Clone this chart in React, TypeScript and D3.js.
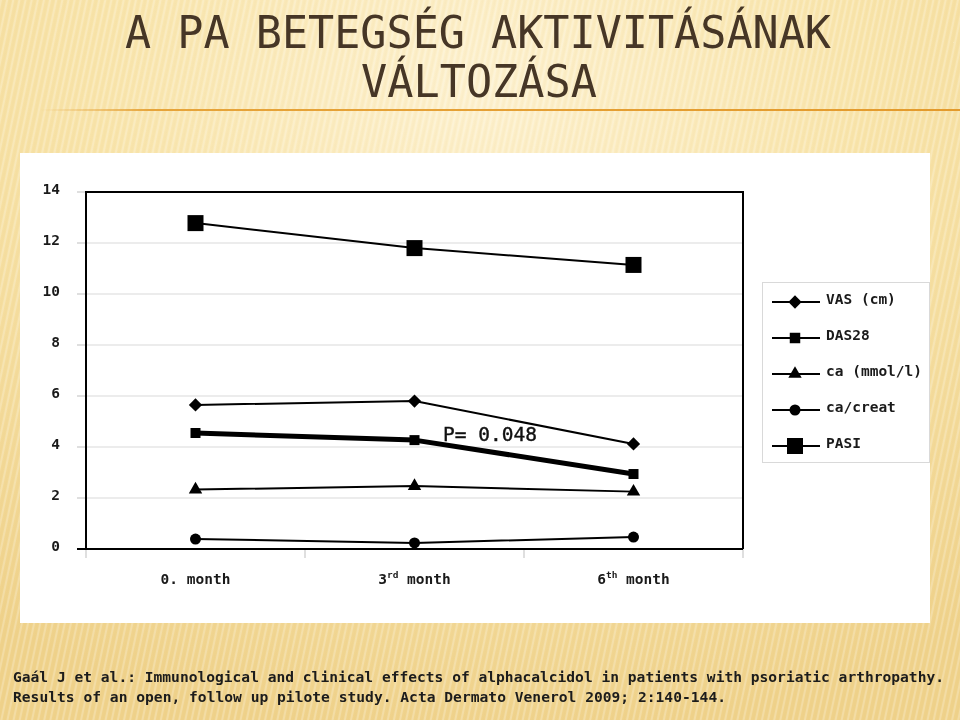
import React from "react";
import * as d3 from "d3";

const categories = ["0. month", "3rd month", "6th month"];
const catMain = ["0.", "3", "6"];
const catSup = ["", "rd", "th"];
const yTicks = [0, 2, 4, 6, 8, 10, 12, 14];

const seriesNames = ["VAS (cm)", "DAS28", "ca (mmol/l)", "ca/creat", "PASI"];
const vas = [5.65, 5.8, 4.12];
const das28 = [4.55, 4.27, 2.94];
const caMmol = [2.33, 2.47, 2.25];
const caCreat = [0.39, 0.24, 0.47];
const pasi = [12.78, 11.8, 11.14];

const titleLines = ["A PA BETEGSÉG AKTIVITÁSÁNAK", "VÁLTOZÁSA"];
const pLabel = "P= 0.048";
const citation = [
  "Gaál J et al.: Immunological and clinical effects of alphacalcidol in patients with psoriatic arthropathy.",
  "Results of an open, follow up pilote study. Acta Dermato Venerol 2009; 2:140-144.",
];

const MONO = "'DejaVu Sans Mono', 'Liberation Mono', monospace";

type Style = { sym: d3.SymbolType; size: number; rot: number; width: number };
const styles: Style[] = [
  { sym: d3.symbolSquare, size: 88, rot: 45, width: 2 },
  { sym: d3.symbolSquare, size: 100, rot: 0, width: 5 },
  { sym: d3.symbolTriangle, size: 78, rot: 0, width: 2 },
  { sym: d3.symbolCircle, size: 95, rot: 0, width: 2 },
  { sym: d3.symbolSquare, size: 256, rot: 0, width: 2 },
];

export default function App() {
  const allSeries = [vas, das28, caMmol, caCreat, pasi];
  const x = d3.scaleBand<string>().domain(categories).range([86, 743]);
  const y = d3.scaleLinear().domain([0, 14]).range([549, 192]);
  const cx = (c: string) => (x(c) as number) + x.bandwidth() / 2;
  const line = d3
    .line<number>()
    .x((_, i) => cx(categories[i]))
    .y((v) => y(v));

  return (
    <svg
      width={960}
      height={720}
      style={{ position: "fixed", left: 0, top: 0 }}
      fontFamily={MONO}
    >
      <defs>
        <radialGradient id="bg" cx="0.5" cy="0.12" r="0.9">
          <stop offset="0" stopColor="#fdf1cf" />
          <stop offset="0.45" stopColor="#f8e4aa" />
          <stop offset="1" stopColor="#efd28b" />
        </radialGradient>
        <pattern id="stripes" width="6" height="6" patternUnits="userSpaceOnUse" patternTransform="rotate(12)">
          <rect x="0" y="0" width="2" height="6" fill="#ffffff" opacity="0.22" />
          <rect x="3.5" y="0" width="1.2" height="6" fill="#d2b060" opacity="0.08" />
        </pattern>
        <linearGradient id="orange" gradientUnits="userSpaceOnUse" x1="40" x2="960" y1="0" y2="0">
          <stop offset="0" stopColor="#e6a43a" stopOpacity="0" />
          <stop offset="0.12" stopColor="#e6a43a" stopOpacity="1" />
          <stop offset="1" stopColor="#e39a2c" stopOpacity="1" />
        </linearGradient>
      </defs>
      <rect x={0} y={0} width={960} height={720} fill="url(#bg)" />
      <rect x={0} y={0} width={960} height={720} fill="url(#stripes)" />

      {/* title */}
      <g fill="#463626" fontSize={45}>
        <text x={125} y={48} textLength={706} lengthAdjust="spacingAndGlyphs">
          {titleLines[0]}
        </text>
        <text x={361} y={97} textLength={236} lengthAdjust="spacingAndGlyphs">
          {titleLines[1]}
        </text>
      </g>
      <line x1={40} x2={960} y1={110} y2={110} stroke="url(#orange)" strokeWidth={2} />

      {/* white panel */}
      <rect x={20} y={153} width={910} height={470} fill="#ffffff" />

      {/* gridlines */}
      {yTicks.map((t) => (
        <g key={t}>
          {t > 0 && t < 14 && (
            <line x1={86} x2={743} y1={y(t)} y2={y(t)} stroke="#d9d9d9" strokeWidth={1.2} />
          )}
          <line x1={77} x2={86} y1={y(t)} y2={y(t)} stroke="#bfbfbf" strokeWidth={1} />
          <text x={60} y={y(t) + 2} textAnchor="end" fontSize={14.5} fontWeight="bold" fill="#1a1a1a">
            {t}
          </text>
        </g>
      ))}

      {/* x ticks */}
      {[...categories.map((c) => x(c) as number), 743].map((tx, i) => (
        <line key={i} x1={tx} x2={tx} y1={549} y2={558} stroke="#bfbfbf" strokeWidth={1} />
      ))}

      {/* frame */}
      <path d="M86,549 V192 H743 V549" fill="none" stroke="#000" strokeWidth={2} />
      <line x1={77} x2={743} y1={549} y2={549} stroke="#000" strokeWidth={2} />

      {/* x labels */}
      {categories.map((c, i) => (
        <text key={c} x={cx(c)} y={584} textAnchor="middle" fontSize={14.5} fontWeight="bold" fill="#1a1a1a">
          {catMain[i]}
          {catSup[i] && (
            <tspan fontSize={9.5} dy={-6}>
              {catSup[i]}
            </tspan>
          )}
          <tspan dy={catSup[i] ? 6 : 0}>{" month"}</tspan>
        </text>
      ))}

      {/* series */}
      {allSeries.map((vals, si) => (
        <g key={si}>
          <path d={line(vals) || ""} fill="none" stroke="#000" strokeWidth={styles[si].width} strokeLinejoin="round" />
          {vals.map((v, i) => (
            <path
              key={i}
              d={d3.symbol().type(styles[si].sym).size(styles[si].size)() || ""}
              transform={`translate(${cx(categories[i])},${y(v)}) rotate(${styles[si].rot})`}
              fill="#000"
            />
          ))}
        </g>
      ))}

      <text x={443} y={441} fontSize={19.5} fill="#111" stroke="#111" strokeWidth={0.4}>
        {pLabel}
      </text>

      {/* legend */}
      <rect x={762.5} y={282.5} width={167} height={180} fill="#fff" stroke="#d9d9d9" strokeWidth={1} />
      {seriesNames.map((n, i) => {
        const ly = 300 + i * 36;
        return (
          <g key={n}>
            <line x1={772} x2={820} y1={ly + 2} y2={ly + 2} stroke="#000" strokeWidth={2} />
            <path
              d={d3.symbol().type(styles[i].sym).size(styles[i].size * (i === 1 ? 1.1 : 1))() || ""}
              transform={`translate(795,${ly + 2}) rotate(${styles[i].rot})`}
              fill="#000"
            />
            <text x={826} y={ly + 4} fontSize={14.5} fontWeight="bold" fill="#1a1a1a">
              {n}
            </text>
          </g>
        );
      })}

      {/* citation */}
      <g fontSize={14.3} fontWeight="bold" fill="#1c1c1c">
        <text x={13} y={682} textLength={931} lengthAdjust="spacingAndGlyphs">
          {citation[0]}
        </text>
        <text x={13} y={702} textLength={713} lengthAdjust="spacingAndGlyphs">
          {citation[1]}
        </text>
      </g>
    </svg>
  );
}
